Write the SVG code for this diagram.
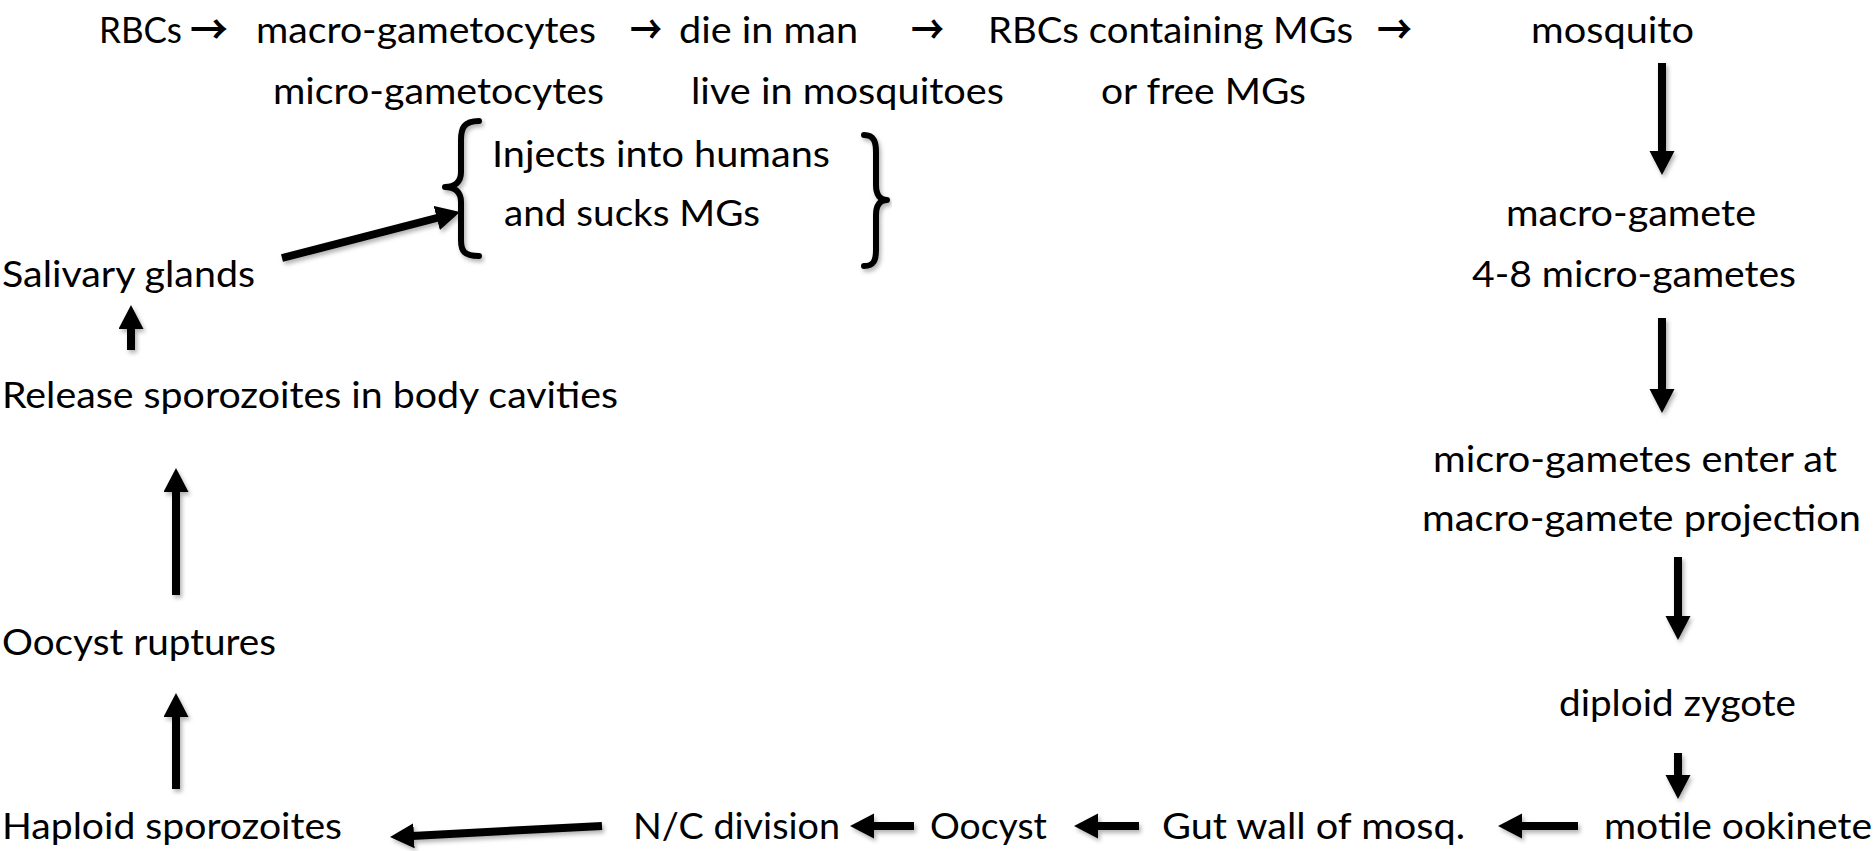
<svg xmlns="http://www.w3.org/2000/svg" width="1874" height="851" viewBox="0 0 1874 851">
<style>
text{font-family:Lato,"Liberation Sans",sans-serif;font-size:37px;fill:#000}
.sym{font-family:"Noto Sans CJK SC","DejaVu Sans",sans-serif;font-size:40px;font-weight:bold}
.arr{stroke:#000;stroke-width:8;fill:none;marker-end:url(#head)}
.brace{stroke:#000;stroke-width:6;fill:none;stroke-linecap:round;stroke-linejoin:round}
</style>
<defs>
<filter id="sh" x="-20%" y="-20%" width="140%" height="140%">
<feDropShadow dx="2" dy="3" stdDeviation="2" flood-color="#000" flood-opacity="0.3"/>
</filter>
<marker id="head" markerUnits="userSpaceOnUse" markerWidth="26" markerHeight="26" refX="2" refY="12.5" orient="auto">
<path d="M0,0 L24,12.5 L0,25 z" fill="#000"/>
</marker>
</defs>

<g id="top-row">
<text x="99" y="43" textLength="83" lengthAdjust="spacingAndGlyphs">RBCs</text>
<text class="sym" x="190" y="44" textLength="38" lengthAdjust="spacingAndGlyphs">→</text>
<text x="256" y="43" textLength="340" lengthAdjust="spacingAndGlyphs">macro-gametocytes</text>
<text class="sym" x="630" y="44" textLength="32" lengthAdjust="spacingAndGlyphs">→</text>
<text x="679" y="43" textLength="179" lengthAdjust="spacingAndGlyphs">die in man</text>
<text class="sym" x="911" y="44" textLength="33" lengthAdjust="spacingAndGlyphs">→</text>
<text x="988" y="43" textLength="365" lengthAdjust="spacingAndGlyphs">RBCs containing MGs</text>
<text class="sym" x="1377" y="44" textLength="35" lengthAdjust="spacingAndGlyphs">→</text>
<text x="1531" y="43" textLength="163" lengthAdjust="spacingAndGlyphs">mosquito</text>
</g>
<g id="second-row">
<text x="273" y="104" textLength="331" lengthAdjust="spacingAndGlyphs">micro-gametocytes</text>
<text x="691" y="104" textLength="313" lengthAdjust="spacingAndGlyphs">live in mosquitoes</text>
<text x="1101" y="104" textLength="205" lengthAdjust="spacingAndGlyphs">or free MGs</text>
</g>
<g id="inject-note">
<path class="brace" filter="url(#sh)" d="M479,121 C464,121 461,128 461,140 L461,172 C461,182 455,187 445,187 C455,187 461,192 461,202 L461,240 C461,251 464,256 479,256"/>
<text x="492" y="167" textLength="338" lengthAdjust="spacingAndGlyphs">Injects into humans</text>
<text x="504" y="226" textLength="256" lengthAdjust="spacingAndGlyphs">and sucks MGs</text>
<path class="brace" filter="url(#sh)" d="M864,135 C874,135 876,142 876,152 L876,185 C876,195 880,200 887,200 C880,200 876,205 876,215 L876,250 C876,260 874,266 864,266"/>
</g>
<g id="salivary"><text x="2" y="287" textLength="253" lengthAdjust="spacingAndGlyphs">Salivary glands</text></g>
<g id="release"><text x="2" y="408" textLength="616" lengthAdjust="spacingAndGlyphs">Release sporozoites in body cavities</text></g>
<g id="oocyst-ruptures"><text x="2" y="655" textLength="274" lengthAdjust="spacingAndGlyphs">Oocyst ruptures</text></g>
<g id="haploid"><text x="2" y="839" textLength="340" lengthAdjust="spacingAndGlyphs">Haploid sporozoites</text></g>
<g id="nc-division"><text x="633" y="839" textLength="207" lengthAdjust="spacingAndGlyphs">N/C division</text></g>
<g id="oocyst"><text x="930" y="839" textLength="117" lengthAdjust="spacingAndGlyphs">Oocyst</text></g>
<g id="gut-wall"><text x="1162" y="839" textLength="303" lengthAdjust="spacingAndGlyphs">Gut wall of mosq.</text></g>
<g id="ookinete"><text x="1604" y="839" textLength="268" lengthAdjust="spacingAndGlyphs">motile ookinete</text></g>
<g id="gametes">
<text x="1506" y="226" textLength="250" lengthAdjust="spacingAndGlyphs">macro-gamete</text>
<text x="1472" y="287" textLength="324" lengthAdjust="spacingAndGlyphs">4-8 micro-gametes</text>
</g>
<g id="fertilisation">
<text x="1433" y="472" textLength="404" lengthAdjust="spacingAndGlyphs">micro-gametes enter at</text>
<text x="1422" y="531" textLength="439" lengthAdjust="spacingAndGlyphs">macro-gamete projection</text>
</g>
<g id="zygote"><text x="1559" y="716" textLength="237" lengthAdjust="spacingAndGlyphs">diploid zygote</text></g>

<g id="connectors" filter="url(#sh)">
<line class="arr" x1="1662" y1="63" x2="1662" y2="153"/>
<line class="arr" x1="1662" y1="318" x2="1662" y2="391"/>
<line class="arr" x1="1678" y1="557" x2="1678" y2="618"/>
<line class="arr" x1="1678" y1="753" x2="1678" y2="777"/>
<line class="arr" x1="1578" y1="826" x2="1520" y2="826"/>
<line class="arr" x1="1139" y1="826" x2="1096" y2="826"/>
<line class="arr" x1="914" y1="826" x2="872" y2="826"/>
<line class="arr" x1="602" y1="826" x2="412" y2="835.9"/>
<line class="arr" x1="176" y1="789" x2="176" y2="715"/>
<line class="arr" x1="176" y1="595" x2="176" y2="490"/>
<line class="arr" x1="131" y1="350" x2="131" y2="327"/>
<line class="arr" x1="282" y1="258" x2="438.7" y2="217.5"/>
</g>
</svg>
